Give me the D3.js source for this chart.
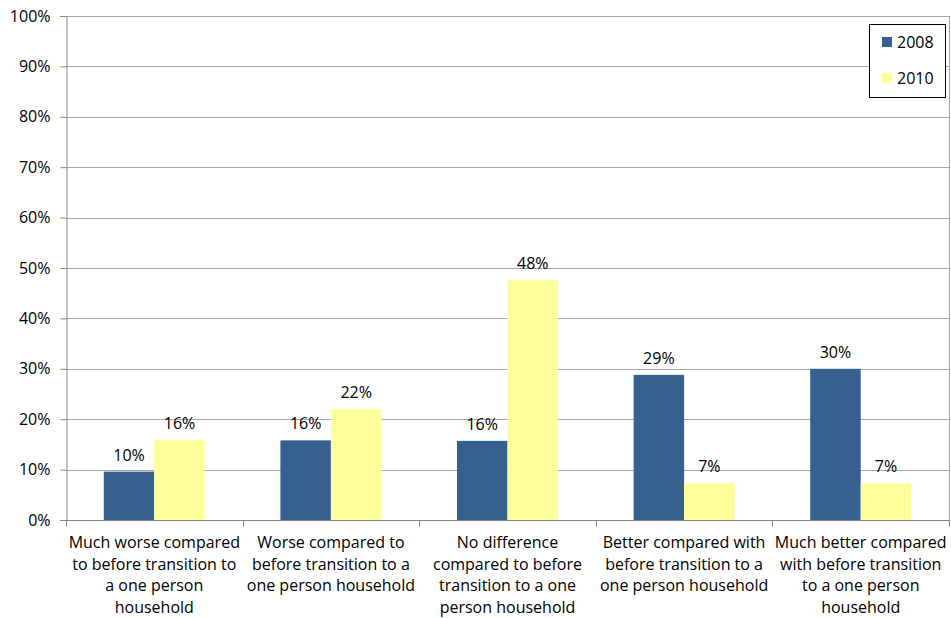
<!DOCTYPE html>
<html><head><meta charset="utf-8">
<script src="https://cdn.jsdelivr.net/npm/d3@7"></script>
<style>body{margin:0;background:#fff;} svg{display:block;font-family:"Open Sans",sans-serif;}</style>
</head><body>
<svg id="c" width="951" height="618"></svg>
<script>
const categories = [
  ["Much worse compared","to before transition to","a one person","household"],
  ["Worse compared to","before transition to a","one person household"],
  ["No difference","compared to before","transition to a one","person household"],
  ["Better compared with","before transition to a","one person household"],
  ["Much better compared","with before transition","to a one person","household"]
];
const seriesNames = ["2008","2010"];
const values2008 = [9.6, 15.8, 15.7, 28.8, 30.0];
const values2010 = [15.9, 22.0, 47.6, 7.3, 7.3];
const yTicks = [0,10,20,30,40,50,60,70,80,90,100];
const colors = ["#36608F","#FFFF99"];

const svg = d3.select("#c");
const mLeft = 66, mRight = 949, mTop = 16, mBottom = 520;
const x = d3.scaleBand().domain(d3.range(categories.length)).range([mLeft,mRight]);
const y = d3.scaleLinear().domain([0,100]).range([mBottom,mTop]);
const groupW = x.bandwidth()*0.572;
const xs = d3.scaleBand().domain(seriesNames).range([0,groupW]);

// gridlines
svg.append("g").selectAll("line").data(yTicks.slice(1)).join("line")
  .attr("x1",mLeft).attr("x2",mRight).attr("y1",d=>Math.round(y(d))+0.5).attr("y2",d=>Math.round(y(d))+0.5)
  .attr("stroke","#A6A6A6").attr("stroke-width",1);
// right border
svg.append("line").attr("x1",mRight+0.5).attr("x2",mRight+0.5).attr("y1",mTop).attr("y2",mBottom).attr("stroke","#A6A6A6");

// bars
const series = [values2008, values2010];
series.forEach((vals,si)=>{
  svg.append("g").selectAll("rect").data(vals).join("rect")
    .attr("x",(d,i)=>x(i)+(x.bandwidth()-groupW)/2+xs(seriesNames[si]))
    .attr("width",xs.bandwidth())
    .attr("y",d=>y(d)).attr("height",d=>mBottom-y(d))
    .attr("fill",colors[si]);
  svg.append("g").selectAll("text").data(vals).join("text")
    .attr("x",(d,i)=>x(i)+(x.bandwidth()-groupW)/2+xs(seriesNames[si])+xs.bandwidth()/2)
    .attr("y",d=>y(d)-11)
    .attr("text-anchor","middle").attr("font-size",16).attr("fill","#000")
    .text(d=>Math.round(d)+"%");
});

// y axis
const ya = svg.append("g").attr("transform",`translate(${mLeft+0.5},0)`)
  .call(d3.axisLeft(y).tickValues(yTicks).tickFormat(d=>d+"%").tickSize(6).tickPadding(10));
ya.select(".domain").attr("stroke","#868686");
ya.selectAll(".tick line").attr("stroke","#868686");
ya.selectAll("text").attr("font-size",16).attr("fill","#000").attr("font-family","'Open Sans',sans-serif");

// x axis
const xa = svg.append("g").attr("transform",`translate(0,${mBottom+0.5})`);
xa.append("line").attr("x1",mLeft).attr("x2",mRight+1).attr("stroke","#868686");
xa.selectAll("line.t").data(d3.range(categories.length+1)).join("line").attr("class","t")
  .attr("x1",i=>Math.round(i<categories.length?x(i):mRight)+0.5).attr("x2",i=>Math.round(i<categories.length?x(i):mRight)+0.5)
  .attr("y1",0).attr("y2",6).attr("stroke","#868686");
categories.forEach((lines,i)=>{
  const t = svg.append("text").attr("text-anchor","middle").attr("font-size",16).attr("fill","#000")
    .attr("x",x(i)+x.bandwidth()/2).attr("y",548);
  lines.forEach((l,j)=>t.append("tspan").attr("x",x(i)+x.bandwidth()/2).attr("dy",j===0?0:21.5).text(l));
});

// legend
const lg = svg.append("g");
lg.append("rect").attr("x",869.5).attr("y",24.5).attr("width",76).attr("height",73).attr("fill","#fff").attr("stroke","#000");
seriesNames.forEach((s,i)=>{
  lg.append("rect").attr("x",882).attr("y",37+i*36).attr("width",10).attr("height",10).attr("fill",colors[i]);
  lg.append("text").attr("x",897).attr("y",48+i*36).attr("font-size",16).attr("fill","#000").text(s);
});
</script>
</body></html>
